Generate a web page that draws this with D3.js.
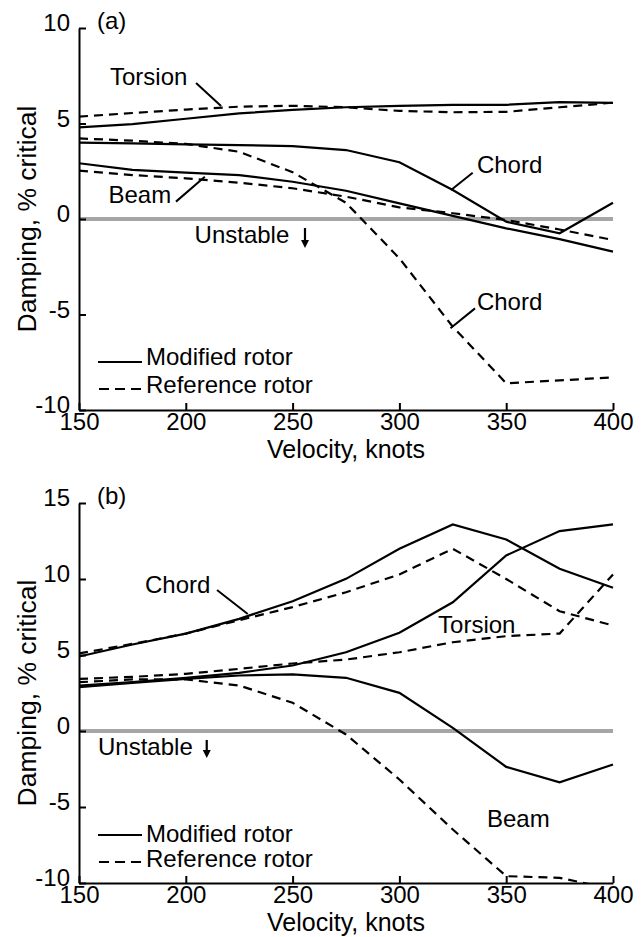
<!DOCTYPE html>
<html>
<head>
<meta charset="utf-8">
<script src="https://cdnjs.cloudflare.com/ajax/libs/d3/7.8.5/d3.min.js"></script>
<style>
  body { margin: 0; background: #fff; }
  text { font-family: "Liberation Sans", Arial, sans-serif; font-size: 24px; fill: #000; }
</style>
</head>
<body>
<script>
// velocity, knots
var knots = [150, 175, 200, 225, 250, 275, 300, 325, 350, 375, 400];
var xTicks = [150, 200, 250, 300, 350, 400];

// (a) damping, % critical
var aTicks = [-10, -5, 0, 5, 10];
var aTorsionMod = [4.80, 4.97, 5.25, 5.53, 5.71, 5.85, 5.92, 5.98, 5.98, 6.12, 6.08];
var aTorsionRef = [5.36, 5.55, 5.73, 5.88, 5.93, 5.85, 5.66, 5.59, 5.61, 5.85, 6.09];
var aChordMod = [4.00, 3.96, 3.91, 3.87, 3.82, 3.61, 2.97, 1.52, -0.14, -0.75, 0.85];
var aChordRef = [4.22, 4.10, 3.93, 3.52, 2.45, 0.85, -2.06, -5.64, -8.60, -8.45, -8.29];
var aBeamMod = [2.92, 2.57, 2.43, 2.30, 1.95, 1.48, 0.82, 0.16, -0.49, -1.05, -1.71];
var aBeamRef = [2.53, 2.30, 2.13, 1.90, 1.61, 1.17, 0.61, 0.30, -0.05, -0.55, -1.10];

// (b) damping, % critical
var bTicks = [-10, -5, 0, 5, 10, 15];
var bChordMod = [4.90, 5.69, 6.41, 7.38, 8.54, 10.01, 11.99, 13.59, 12.60, 10.67, 9.42];
var bChordRef = [5.10, 5.73, 6.41, 7.29, 8.15, 9.13, 10.30, 11.99, 10.00, 7.88, 6.94];
var bTorsionMod = [2.99, 3.21, 3.50, 3.83, 4.31, 5.18, 6.46, 8.47, 11.55, 13.15, 13.59];
var bTorsionRef = [3.43, 3.56, 3.76, 4.09, 4.44, 4.70, 5.18, 5.84, 6.24, 6.41, 10.30];
var bBeamMod = [2.88, 3.17, 3.43, 3.65, 3.72, 3.50, 2.51, 0.21, -2.36, -3.37, -2.20];
var bBeamRef = [3.21, 3.39, 3.39, 2.99, 1.86, -0.23, -3.19, -6.48, -9.55, -9.66, -10.40];

var svg = d3.select("body").append("svg")
    .attr("width", 642)
    .attr("height", 937);

var x = d3.scaleLinear().domain([150, 400]).range([79, 613]);

// plain hyphen for negatives, like the original
var plain = function (d) { return String(d) };

function panel(cfg) {
    var y = d3.scaleLinear().domain(cfg.domain).range(cfg.range);
    var g = svg.append("g");
    var top = cfg.range[1], bottom = cfg.range[0];

    g.append("clipPath").attr("id", cfg.id)
        .append("rect")
        .attr("x", x(150)).attr("y", top - 5)
        .attr("width", x(400) - x(150) + 3).attr("height", bottom - top + 5);

    // zero line
    g.append("line")
        .attr("x1", x(150)).attr("x2", x(400))
        .attr("y1", y(0)).attr("y2", y(0))
        .attr("stroke", "#a6a6a6").attr("stroke-width", 4);

    var line = d3.line()
        .x(function (d, i) { return x(knots[i]) })
        .y(function (d) { return y(d) });

    cfg.series.forEach(function (s) {
        g.append("path")
            .attr("d", line(s.values))
            .attr("fill", "none")
            .attr("stroke", "#000")
            .attr("stroke-width", 2.2)
            .attr("stroke-dasharray", s.dashed ? "9,6" : null)
            .attr("clip-path", "url(#" + cfg.id + ")");
    });

    // axes
    var xAxis = g.append("g")
        .attr("transform", "translate(0," + bottom + ")")
        .call(d3.axisBottom(x).tickValues(xTicks).tickFormat(plain)
            .tickSizeInner(-7).tickSizeOuter(0).tickPadding(3));
    var yAxis = g.append("g")
        .attr("transform", "translate(" + x(150) + ",0)")
        .call(d3.axisLeft(y).tickValues(cfg.ticks).tickFormat(plain)
            .tickSizeInner(-7).tickSizeOuter(0).tickPadding(9));
    yAxis.selectAll(".tick text").attr("dy", "0.12em");
    [xAxis, yAxis].forEach(function (a) {
        a.attr("font-size", null).attr("font-family", null);
        a.selectAll("path, line").attr("stroke", "#000").attr("stroke-width", 2);
        a.selectAll("text").attr("fill", "#000").style("font-size", "24px");
    });

    // axis titles
    g.append("text")
        .attr("x", (x(150) + x(400)) / 2).attr("y", bottom + 48)
        .attr("text-anchor", "middle")
        .style("font-size", "25px")
        .text("Velocity, knots");
    g.append("text")
        .attr("transform", "translate(36," + (top + bottom) / 2 + ") rotate(-90)")
        .attr("text-anchor", "middle")
        .style("font-size", "26.5px")
        .text("Damping, % critical");

    // panel tag
    g.append("text").attr("x", x(150) + 18).attr("y", top + 1).text(cfg.tag);

    // annotations (data units)
    cfg.labels.forEach(function (l) {
        g.append("text").attr("x", x(l.k)).attr("y", y(l.v)).text(l.text);
        if (l.lead) {
            g.append("line")
                .attr("x1", x(l.lead[0])).attr("y1", y(l.lead[1]))
                .attr("x2", x(l.lead[2])).attr("y2", y(l.lead[3]))
                .attr("stroke", "#000").attr("stroke-width", 2);
        }
    });

    // unstable arrow
    var ax = x(cfg.arrow[0]), ay1 = y(cfg.arrow[1]), ay2 = y(cfg.arrow[2]);
    g.append("line")
        .attr("x1", ax).attr("x2", ax).attr("y1", ay1).attr("y2", ay2 - 6)
        .attr("stroke", "#000").attr("stroke-width", 2.2);
    g.append("path")
        .attr("d", "M" + (ax - 4) + "," + (ay2 - 8) + "L" + (ax + 4) + "," + (ay2 - 8) + "L" + ax + "," + ay2 + "Z")
        .attr("fill", "#000");

    // legend
    var lg = g.append("g").attr("transform", "translate(0," + bottom + ")");
    lg.append("line").attr("x1", 98).attr("x2", 142).attr("y1", -48).attr("y2", -48)
        .attr("stroke", "#000").attr("stroke-width", 2);
    lg.append("line").attr("x1", 99).attr("x2", 142).attr("y1", -21).attr("y2", -21)
        .attr("stroke", "#000").attr("stroke-width", 2).attr("stroke-dasharray", "10,6");
    lg.append("text").attr("x", 146).attr("y", cfg.legendY[0]).text("Modified rotor");
    lg.append("text").attr("x", 146).attr("y", cfg.legendY[1]).text("Reference rotor");
}

panel({
    id: "clipA", tag: "(a)",
    domain: [-10, 10], range: [410, 28], ticks: aTicks,
    series: [
        { values: aTorsionMod }, { values: aTorsionRef, dashed: true },
        { values: aChordMod }, { values: aChordRef, dashed: true },
        { values: aBeamMod }, { values: aBeamRef, dashed: true }
    ],
    labels: [
        { text: "Torsion", k: 164.5, v: 7.02, lead: [204.8, 7.12, 216.5, 5.92] },
        { text: "Chord", k: 336.3, v: 2.41, lead: [334.3, 2.42, 324.2, 1.52] },
        { text: "Beam", k: 163.8, v: 0.84, lead: [195.4, 0.91, 208.9, 2.21] },
        { text: "Unstable", k: 204.1, v: -1.26 },
        { text: "Chord", k: 336.3, v: -4.76, lead: [335.4, -4.68, 323.9, -5.72] }
    ],
    arrow: [255.8, -0.47, -1.52],
    legendY: [-45, -17]
});

panel({
    id: "clipB", tag: "(b)",
    domain: [-10, 15], range: [883, 503], ticks: bTicks,
    series: [
        { values: bChordMod }, { values: bChordRef, dashed: true },
        { values: bTorsionMod }, { values: bTorsionRef, dashed: true },
        { values: bBeamMod }, { values: bBeamRef, dashed: true }
    ],
    labels: [
        { text: "Chord", k: 180.9, v: 9.08, lead: [214.6, 9.28, 229.0, 7.7] },
        { text: "Torsion", k: 318.1, v: 6.45 },
        { text: "Unstable", k: 158.9, v: -1.58 },
        { text: "Beam", k: 341, v: -6.32 }
    ],
    arrow: [209.8, -0.59, -1.78],
    legendY: [-41, -16]
});
</script>
</body>
</html>
